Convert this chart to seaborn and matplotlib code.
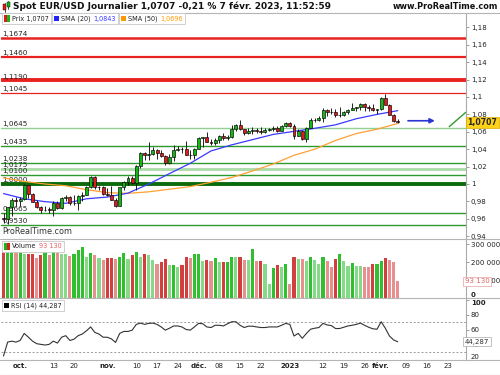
import numpy as np
import pandas as pd
import matplotlib
matplotlib.use("Agg")
from matplotlib import pyplot as plt
from matplotlib.patches import Rectangle
from matplotlib.lines import Line2D
import matplotlib.transforms as mtransforms
import seaborn as sns

sns.set_theme(style="white")
plt.rcParams["font.family"] = ["DejaVu Sans"]
plt.rcParams["axes.unicode_minus"] = False

# ******************************** données ********************************
first_day = "2022-09-27"
last_day = "2023-02-07"

opens = [0.9607, 0.9593, 0.9735, 0.9814, 0.9802, 0.9824, 0.9984, 0.9886, 0.9795, 0.9740,
         0.9700, 0.9706, 0.9703, 0.9780, 0.9724, 0.9837, 0.9855, 0.9776, 0.9778, 0.9860,
         0.9876, 0.9965, 1.0080, 0.9963, 0.9966, 0.9882, 0.9876, 0.9818, 0.9749, 0.9961,
         1.0020, 1.0074, 1.0012, 1.0207, 1.0354, 1.0328, 1.0350, 1.0390, 1.0362, 1.0326,
         1.0244, 1.0307, 1.0396, 1.0408, 1.0398, 1.0337, 1.0332, 1.0406, 1.0523, 1.0535,
         1.0487, 1.0467, 1.0507, 1.0555, 1.0532, 1.0536, 1.0630, 1.0681, 1.0627, 1.0585,
         1.0608, 1.0622, 1.0609, 1.0596, 1.0618, 1.0636, 1.0639, 1.0611, 1.0662, 1.0705,
         1.0669, 1.0548, 1.0605, 1.0521, 1.0644, 1.0733, 1.0735, 1.0760, 1.0853, 1.0830,
         1.0822, 1.0791, 1.0796, 1.0833, 1.0855, 1.0870, 1.0886, 1.0915, 1.0889, 1.0868,
         1.0848, 1.0863, 1.0992, 1.0911, 1.0794, 1.0727]
highs = [0.9670, 0.9737, 0.9838, 0.9853, 0.9853, 0.9999, 0.9990, 0.9897, 0.9820, 0.9748,
         0.9744, 0.9736, 0.9808, 0.9809, 0.9846, 0.9874, 0.9864, 0.9874, 0.9874, 0.9904,
         0.9975, 1.0094, 1.0091, 0.9979, 0.9977, 0.9953, 0.9976, 0.9835, 0.9964, 1.0034,
         1.0094, 1.0093, 1.0222, 1.0365, 1.0363, 1.0481, 1.0428, 1.0398, 1.0396, 1.0334,
         1.0342, 1.0448, 1.0434, 1.0428, 1.0497, 1.0390, 1.0413, 1.0544, 1.0545, 1.0594,
         1.0519, 1.0534, 1.0563, 1.0588, 1.0567, 1.0673, 1.0695, 1.0736, 1.0632, 1.0640,
         1.0658, 1.0638, 1.0657, 1.0639, 1.0640, 1.0662, 1.0666, 1.0673, 1.0714, 1.0713,
         1.0684, 1.0633, 1.0622, 1.0653, 1.0760, 1.0762, 1.0777, 1.0869, 1.0867, 1.0874,
         1.0867, 1.0887, 1.0844, 1.0858, 1.0927, 1.0890, 1.0928, 1.0930, 1.0911, 1.0915,
         1.0867, 1.1002, 1.1033, 1.0924, 1.0805, 1.0746]
lows = [0.9555, 0.9536, 0.9633, 0.9748, 0.9751, 0.9820, 0.9836, 0.9788, 0.9729, 0.9668,
        0.9685, 0.9669, 0.9632, 0.9717, 0.9713, 0.9806, 0.9758, 0.9755, 0.9705, 0.9808,
        0.9873, 0.9959, 0.9946, 0.9935, 0.9872, 0.9866, 0.9817, 0.9730, 0.9745, 0.9930,
        0.9990, 1.0002, 0.9936, 1.0189, 1.0272, 1.0277, 1.0339, 1.0290, 1.0310, 1.0223,
        1.0227, 1.0268, 1.0382, 1.0352, 1.0331, 1.0290, 1.0288, 1.0403, 1.0430, 1.0479,
        1.0443, 1.0445, 1.0476, 1.0503, 1.0501, 1.0523, 1.0614, 1.0624, 1.0565, 1.0576,
        1.0570, 1.0591, 1.0573, 1.0587, 1.0608, 1.0613, 1.0598, 1.0610, 1.0652, 1.0653,
        1.0519, 1.0549, 1.0511, 1.0483, 1.0642, 1.0712, 1.0729, 1.0710, 1.0783, 1.0804,
        1.0765, 1.0766, 1.0780, 1.0804, 1.0854, 1.0835, 1.0855, 1.0838, 1.0836, 1.0837,
        1.0800, 1.0845, 1.0906, 1.0795, 1.0708, 1.0704]
closes = [0.9593, 0.9735, 0.9814, 0.9802, 0.9824, 0.9984, 0.9886, 0.9795, 0.9740, 0.9700,
          0.9706, 0.9703, 0.9780, 0.9724, 0.9837, 0.9855, 0.9776, 0.9778, 0.9860, 0.9876,
          0.9965, 1.0080, 0.9963, 0.9966, 0.9882, 0.9876, 0.9818, 0.9749, 0.9961, 1.0020,
          1.0074, 1.0012, 1.0207, 1.0354, 1.0328, 1.0350, 1.0390, 1.0362, 1.0326, 1.0244,
          1.0307, 1.0396, 1.0408, 1.0398, 1.0337, 1.0332, 1.0406, 1.0523, 1.0535, 1.0487,
          1.0467, 1.0507, 1.0555, 1.0532, 1.0536, 1.0630, 1.0681, 1.0627, 1.0585, 1.0608,
          1.0622, 1.0609, 1.0596, 1.0618, 1.0636, 1.0639, 1.0611, 1.0662, 1.0705, 1.0669,
          1.0548, 1.0605, 1.0521, 1.0644, 1.0733, 1.0735, 1.0760, 1.0853, 1.0830, 1.0822,
          1.0791, 1.0796, 1.0833, 1.0855, 1.0870, 1.0886, 1.0915, 1.0889, 1.0868, 1.0848,
          1.0863, 1.0992, 1.0911, 1.0794, 1.0727, 1.0707]
volumes = [261000, 280000, 280000, 257000, 267000, 244000, 244000, 244000, 222000, 237000,
           261000, 239000, 254000, 250000, 244000, 243000, 235000, 244000, 267000, 281000,
           228000, 250000, 239000, 220000, 209000, 220000, 220000, 217000, 226000, 250000,
           217000, 239000, 254000, 228000, 243000, 237000, 211000, 191000, 198000, 217000,
           183000, 183000, 170000, 183000, 226000, 224000, 243000, 243000, 207000, 213000,
           206000, 220000, 198000, 198000, 198000, 230000, 228000, 228000, 213000, 211000,
           272000, 206000, 206000, 187000, 78000, 168000, 183000, 170000, 187000, 76000,
           226000, 219000, 217000, 207000, 226000, 213000, 189000, 226000, 207000, 170000,
           217000, 244000, 206000, 180000, 196000, 180000, 178000, 174000, 172000, 189000,
           189000, 206000, 220000, 209000, 198000, 93130]
rsi = [25.3, 43.8, 45.1, 43.8, 46.0, 55.4, 50.3, 45.1, 41.7, 40.8,
       39.9, 40.8, 45.1, 42.5, 50.3, 52.4, 46.0, 47.7, 52.4, 54.6,
       58.9, 64.0, 56.7, 54.6, 50.3, 50.3, 48.1, 43.4, 55.4, 58.0,
       58.0, 59.7, 67.4, 69.1, 67.4, 68.7, 69.1, 67.4, 64.0, 59.7,
       62.3, 65.3, 65.3, 64.0, 60.6, 59.7, 64.0, 68.7, 68.3, 64.0,
       63.2, 66.2, 66.2, 65.3, 68.3, 70.9, 70.9, 66.2, 63.2, 65.0,
       65.0, 64.0, 63.2, 63.2, 64.0, 64.0, 64.0, 66.2, 68.7, 67.4,
       51.9, 55.4, 48.9, 55.4, 61.0, 62.3, 63.2, 68.7, 66.6, 65.8,
       61.9, 61.9, 63.6, 65.3, 66.2, 67.4, 69.1, 66.2, 63.6, 61.5,
       61.0, 70.9, 62.3, 51.9, 46.7, 44.287]

# moyennes mobiles (une valeur tous les 5 jours)
sma_days = [0, 5, 10, 15, 20, 25, 30, 35, 40, 45, 50, 55, 60, 65, 70, 75, 80, 85, 90, 95]
sma20 = [0.9890, 0.9830, 0.9797, 0.9778, 0.9830, 0.9850, 0.9895, 1.0000, 1.0120, 1.0238,
         1.0380, 1.0450, 1.0510, 1.0570, 1.0605, 1.0640, 1.0680, 1.0750, 1.0800, 1.0843]
sma50 = [1.0070, 1.0030, 1.0000, 0.9980, 0.9935, 0.9900, 0.9893, 0.9910, 0.9940, 0.9970,
         1.0020, 1.0075, 1.0150, 1.0230, 1.0330, 1.0400, 1.0500, 1.0580, 1.0630, 1.0696]

# supports / résistances
levels = [1.1674, 1.1460, 1.1190, 1.1045, 1.0645, 1.0435, 1.0238, 1.0175, 1.0100, 1.0000, 0.9665, 0.9530]
level_labels = ["1,1674", "1,1460", "1,1190", "1,1045", "1,0645", "1,0435",
                "1,0238", "1,0175", "1,0100", "1,0000", "0,9665", "0,9530"]

# étiquettes de l'axe des dates
tick_dates = ["2022-10-03", "2022-10-13", "2022-10-20", "2022-11-01", "2022-11-10", "2022-11-17",
              "2022-11-24", "2022-12-01", "2022-12-08", "2022-12-15", "2022-12-22", "2023-01-02",
              "2023-01-12", "2023-01-19", "2023-01-26", "2023-02-01", "2023-02-09", "2023-02-16",
              "2023-02-23"]
tick_labels = ["oct.", "13", "20", "nov.", "10", "17", "24", "déc.", "08", "15", "22", "2023",
               "12", "19", "26", "févr.", "09", "16", "23"]

# ******************************** mise en forme ********************************
days = pd.bdate_range(first_day, "2023-03-10")
day_pos = {d: i for i, d in enumerate(days)}
df = pd.DataFrame({"open": opens, "high": highs, "low": lows, "close": closes,
                   "volume": volumes, "rsi": rsi})
df["x"] = np.arange(len(df))
df["up"] = df["close"] >= df["open"]
tick_pos = [day_pos[pd.Timestamp(d)] for d in tick_dates]

W, H = 500, 375
fig = plt.figure(figsize=(W / 100, H / 100), dpi=100)


def fx(x):
    return x / W


def fy(y):
    return 1 - y / H


x_left, x_right = 1, 466
ax = fig.add_axes([fx(x_left), fy(239), fx(x_right - x_left), fy(13) - fy(239)])
ax_vol = fig.add_axes([fx(x_left), fy(298), fx(x_right - x_left), fy(239) - fy(298)], sharex=ax)
ax_rsi = fig.add_axes([fx(x_left), fy(360), fx(x_right - x_left), fy(298) - fy(360)], sharex=ax)

px_day = 4.15
xlim = ((x_left - 3.5) / px_day, (x_right - 3.5) / px_day)

GREEN = "#14b814"
RED = "#e01b1b"
TICK_FS = 5.0

# lignes horizontales
level_style = [("#e8231f", 1.8), ("#e8231f", 1.6), ("#e8231f", 2.8), ("#e8231f", 0.9),
               ("#93cf93", 1.0), ("#2e9a2e", 1.0), ("#2e9a2e", 1.0), ("#b0dcb0", 2.2),
               ("#2e9a2e", 1.0), ("#0b6b0b", 2.8), ("#2e9a2e", 1.0), ("#2e9a2e", 1.0)]
for lv, lab, (col, lw) in zip(levels, level_labels, level_style):
    ax.axhline(lv, color=col, lw=lw, zorder=1)
    ax.text(xlim[0] + 0.35, lv + 0.0022, lab, fontsize=5.2, color="#222222", zorder=1.5)

# moyennes mobiles
sns.lineplot(x=sma_days, y=sma50, ax=ax, color="#ffa033", lw=0.9, zorder=2)
sns.lineplot(x=sma_days, y=sma20, ax=ax, color="#3a3aff", lw=0.9, zorder=2)

# chandeliers
ax.vlines(df["x"], df["low"], df["high"], color="black", lw=0.6, zorder=3)
body_low = df[["open", "close"]].min(axis=1)
body_h = (df["close"] - df["open"]).abs().clip(lower=0.0005)
ax.bar(df["x"], body_h, bottom=body_low, width=0.72,
       color=np.where(df["up"], GREEN, RED), edgecolor="black", linewidth=0.45, zorder=4)

# flèche bleue et ligne verte de projection
ax.annotate("", xy=(104.6, 1.0727), xytext=(96.8, 1.0727),
            arrowprops=dict(arrowstyle="-|>", color="#2a35d8", lw=1.2, mutation_scale=7))
ax.plot([107.4, 111.4], [1.0659, 1.0824], color="#2f9a2f", lw=1.0)

ax.set_xlim(*xlim)
ax.set_ylim(1 - 55 / 870, 1 + 171 / 870)
main_ticks = np.round(np.arange(0.94, 1.181, 0.02), 2)
ax.set_yticks(main_ticks)
ax.set_yticklabels([("%.2f" % t).rstrip("0").rstrip(".").replace(".", ",") for t in main_ticks])
for t, lab in zip(main_ticks, ax.get_yticklabels()):
    if t in (1.0, 1.1):
        lab.set_fontweight("bold")

# volume
vol_col = []
for i, (up, v) in enumerate(zip(df["up"], df["volume"])):
    light = i > 0 and v < df["volume"].iloc[i - 1]
    if up:
        vol_col.append("#86d986" if light else "#2fbf2f")
    else:
        vol_col.append("#e88f8f" if light else "#d23f3f")
ax_vol.bar(df["x"], df["volume"], width=0.76, color=vol_col, linewidth=0, zorder=2)
ax_vol.set_ylim(0, 328000)
ax_vol.set_yticks([0, 100000, 200000, 300000])
ax_vol.set_yticklabels(["0", "100 000", "200 000", "300 000"])

# RSI
sns.lineplot(x=df["x"], y=df["rsi"], ax=ax_rsi, color="#333333", lw=0.8, zorder=3)
for lv in (70, 30):
    ax_rsi.axhline(lv, color="#9a9a9a", lw=0.7, dashes=(2, 2), zorder=1)
ax_rsi.set_ylim(20, 102.5)
ax_rsi.set_yticks([20, 40, 60, 80, 100])
ax_rsi.set_yticklabels(["20", "40", "60", "80", "100"])
ax_rsi.set_xticks(tick_pos)
ax_rsi.set_xticklabels(tick_labels)

for a in (ax, ax_vol, ax_rsi):
    a.set_xlabel("")
    a.set_ylabel("")
    a.yaxis.tick_right()
    a.tick_params(axis="y", which="both", direction="out", length=2, width=0.5, color="#777777",
                  labelsize=TICK_FS, pad=1.5, labelcolor="#222222", right=True, left=False)
    for s in ("left", "top", "bottom"):
        a.spines[s].set_visible(False)
    a.spines["right"].set_color("#aaaaaa")
    a.spines["right"].set_linewidth(0.8)
    a.set_facecolor("white")
ax.tick_params(axis="x", bottom=False, labelbottom=False)
ax_vol.tick_params(axis="x", bottom=False, labelbottom=False)
ax_rsi.tick_params(axis="x", bottom=False, length=0, labelsize=TICK_FS, pad=2.0, labelcolor="#222222")

# étiquettes aux bords des panneaux décalées vers l'intérieur, en gras
vlabs = ax_vol.get_yticklabels()
vlabs[0].set_fontweight("bold")
vlabs[0].set_va("bottom")
rlabs = ax_rsi.get_yticklabels()
rlabs[-1].set_fontweight("bold")
rlabs[-1].set_va("top")
rlabs[0].set_va("bottom")
for lab in ax_rsi.get_xticklabels():
    if not lab.get_text().isdigit() or lab.get_text() == "2023":
        lab.set_fontweight("bold")

# séparateurs de panneaux
for y in (13, 239, 298, 360, 374.5):
    fig.add_artist(Line2D([0, 1], [fy(y), fy(y)], transform=fig.transFigure, color="#b5b5b5", lw=0.8))

# étiquettes de valeurs à droite
tr = mtransforms.blended_transform_factory(ax.transAxes, ax.transData)
ax.text(1.003, 1.0707, "1,0707", transform=tr, fontsize=5.6, fontweight="bold", va="center",
        ha="left", zorder=6, clip_on=False,
        bbox=dict(boxstyle="square,pad=0.18", fc="#ffd21a", ec="#d8ad00", lw=0.5))
tr = mtransforms.blended_transform_factory(ax_vol.transAxes, ax_vol.transData)
ax_vol.text(0.997, 93130, "93 130", transform=tr, fontsize=TICK_FS, color="#e06060", va="center",
            ha="left", zorder=6, clip_on=False,
            bbox=dict(boxstyle="square,pad=0.25", fc="white", ec="#e6a0a0", lw=0.5))
tr = mtransforms.blended_transform_factory(ax_rsi.transAxes, ax_rsi.transData)
ax_rsi.text(0.997, 44.287, "44,287", transform=tr, fontsize=TICK_FS, color="#333333", va="center",
            ha="left", zorder=6, clip_on=False,
            bbox=dict(boxstyle="square,pad=0.25", fc="white", ec="#aaaaaa", lw=0.5))

# ******************************** textes et légendes ********************************
fig.canvas.draw()
renderer = fig.canvas.get_renderer()


def legend_box(x0, y0, h, parts, size=4.7):
    x = x0 + 2
    for kind, val, col in parts:
        if kind == "sq":
            fig.add_artist(Rectangle((fx(x), fy(y0 + h / 2 + 2.5)), 5 / W, 5 / H,
                                     transform=fig.transFigure, fc=col, ec="none", zorder=5))
            x += 7
        elif kind == "ic":
            for k, c in enumerate(col):
                fig.add_artist(Rectangle((fx(x + 3 * k), fy(y0 + h / 2 + 3.5)), 3 / W, 7 / H,
                                         transform=fig.transFigure, fc=c, ec="none", zorder=5))
            x += 3 * len(col) + 2
        else:
            t = fig.text(fx(x), fy(y0 + h / 2), val, color=col, fontsize=size, va="center", zorder=6)
            x += t.get_window_extent(renderer).width + 2.5
    fig.add_artist(Rectangle((fx(x0), fy(y0 + h)), (x - x0) / W, h / H, transform=fig.transFigure,
                             fc="white", ec="#c8c8c8", lw=0.6, zorder=4))
    return x + 1


x = legend_box(2, 13, 11, [("ic", None, [RED, GREEN]), ("tx", "Prix 1,0707", "#222222")])
x = legend_box(x, 13, 11, [("sq", None, "#2222ff"), ("tx", "SMA (20)", "#222222"), ("tx", "1,0843", "#3a3aff")])
legend_box(x, 13, 11, [("sq", None, "#ff9900"), ("tx", "SMA (50)", "#222222"), ("tx", "1,0696", "#ff9900")])
legend_box(2, 241, 11, [("ic", None, [GREEN, RED]), ("tx", "Volume", "#222222"), ("tx", "93 130", "#e06060")])
legend_box(2, 300, 11, [("sq", None, "black"), ("tx", "RSI (14) 44,287", "#222222")])

# titre
for k, (c, y0, hh) in enumerate([(RED, 4, 6), (GREEN, 2, 5)]):
    fig.add_artist(Line2D([fx(4.5 + 3.5 * k)] * 2, [fy(y0 + hh + 1.5), fy(y0 - 1.5)],
                          transform=fig.transFigure, color="black", lw=0.5, zorder=5))
    fig.add_artist(Rectangle((fx(3 + 3.5 * k), fy(y0 + hh)), 3 / W, hh / H, transform=fig.transFigure,
                             fc=c, ec="black", lw=0.3, zorder=6))
fig.text(fx(13), fy(6.5), "Spot EUR/USD Journalier 1,0707 -0,21 % 7 févr. 2023, 11:52:59",
         fontsize=6.5, fontweight="bold", color="#111111", va="center")
fig.text(fx(498), fy(6.5), "www.ProRealTime.com", fontsize=5.9, fontweight="bold",
         color="#111111", va="center", ha="right")
fig.text(fx(2), fy(232), "ProRealTime.com", fontsize=5.8, color="#333333", va="center")

fig.savefig("out.png", dpi=100, facecolor="white")
